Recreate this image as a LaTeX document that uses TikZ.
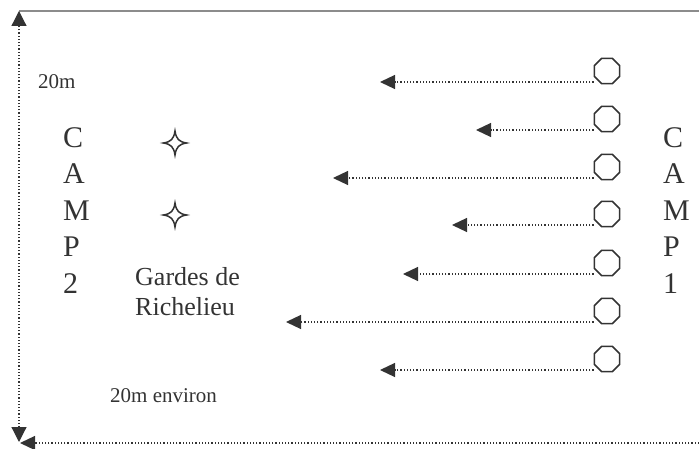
\documentclass[tikz,border=0pt]{standalone}
\usepackage{fontspec}
\setmainfont{Liberation Serif}
\usetikzlibrary{arrows.meta}
\usetikzlibrary{positioning}
\usetikzlibrary{shapes.geometric}
\definecolor{ink}{HTML}{333333}

\begin{document}
\begin{tikzpicture}[x=1pt, y=-1pt,
        post/.style={regular polygon, regular polygon sides=8, draw=ink, line width=1.5pt, fill=white, minimum size=27.5pt, inner sep=0pt},
        shot/.style={dotted, line width=1.2pt, ink, -{Triangle[width=14pt,length=15pt]}},
        sparkle/.style={draw=ink, line width=1.5pt, fill=white},
        camp/.style={align=left, inner sep=0pt, anchor=north west, text=ink, font=\fontsize{30}{36.5}\selectfont},
        note/.style={inner sep=0pt, anchor=base west, text=ink, font=\fontsize{21}{25}\selectfont},
    ]
    \useasboundingbox (0,0) rectangle (699,449);
    \coordinate (nw) at (19,11);
    \coordinate (ne) at (699,11);
    \coordinate (sw) at (19,442);
    \coordinate (sb) at (20,443);
    \coordinate (se) at (699,443);
    \draw[black!45, line width=1.5pt] (nw) -- (ne);
    \draw[dotted, line width=1.2pt, ink, {Triangle[width=15pt,length=15pt]}-{Triangle[width=15pt,length=15pt]}] (sw) -- (nw);
    \draw[shot] (se) -- (sb);
    \foreach \y/\tip [count=\i] in {71/380,119/476,167/333,214/452,263/403,311/286,359/380} {
        \node[post] (o\i) at (607,\y) {};
        \coordinate (t\i) at (\tip,\y+11);
        \draw[shot] (o\i.west |- t\i) -- (t\i);
    }
    \foreach \y [count=\i] in {143,215} {
        \coordinate (g\i) at (175,\y);
        \draw[sparkle, shift={(g\i)}] (0,-12) .. controls (1.2,-4) and (4,-1.2) .. (11.5,0) .. controls (4,1.2) and (1.2,4) .. (0,12) .. controls (-1.2,4) and (-4,1.2) .. (-11.5,0) .. controls (-4,-1.2) and (-1.2,-4) .. cycle;
    }
    \node[note] (near) at (38,89) {20m};
    \node[note] (far) at (110,402) {20m environ};
    \node[camp] (camp2) at (63,127) {C\\A\\M\\P\\2};
    \node[camp] (camp1) at (663,127) {C\\A\\M\\P\\1};
    \node[camp, font=\fontsize{26}{30}\selectfont] (guards) at (135,267) {Gardes de\\Richelieu};
\end{tikzpicture}
\end{document}
